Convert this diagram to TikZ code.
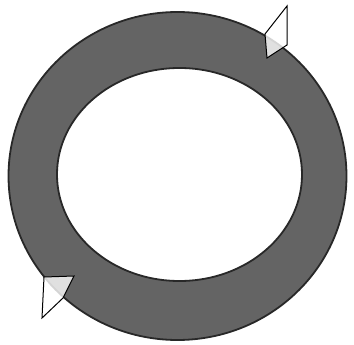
\documentclass[tikz,border=0pt]{standalone}
\definecolor{ringgray}{RGB}{100,100,100}
\definecolor{ringedge}{RGB}{40,40,40}
\tikzset{
  ring/.style={fill=ringgray, draw=ringedge, line width=1.8pt, even odd rule},
  arrowtri/.style={fill=white, fill opacity=0.8, draw=black, line width=1pt, line join=miter}
}
\begin{document}
\begin{tikzpicture}[x=1pt,y=-1pt]
\useasboundingbox (0,0) rectangle (354,345);
% ring
\path[ring] (177.5,176) ellipse [x radius=169, y radius=164]
            (179.5,174.5) ellipse [x radius=122.5, y radius=106.5];
% arrowheads
\path[arrowtri] (287,6) -- (265,34) -- (267,58) -- (287,45) -- cycle;
\path[arrowtri] (42,318) -- (63,298) -- (74,276) -- (44,277) -- cycle;
\end{tikzpicture}
\end{document}
